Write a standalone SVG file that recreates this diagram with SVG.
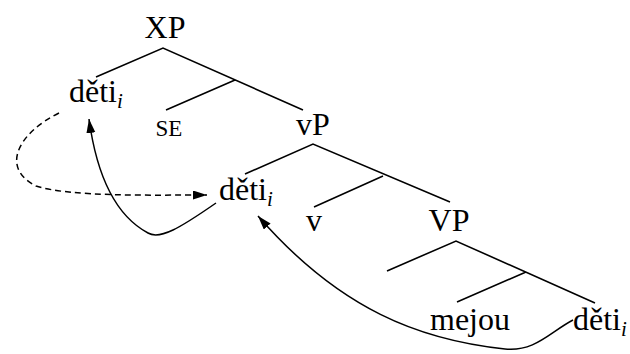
<svg xmlns="http://www.w3.org/2000/svg" width="630" height="354" viewBox="0 0 630 354">
<defs>
<marker id="ah" markerUnits="userSpaceOnUse" markerWidth="16" markerHeight="10" refX="14" refY="4.5" orient="auto">
<path d="M0,0 L14,4.5 L0,9 z" fill="#000"/>
</marker>
</defs>
<rect width="630" height="354" fill="#fff"/>
<g id="tree-lines" stroke="#000" stroke-width="1.6" fill="none">
<path d="M96 77 L163 48 L303 110 M166 110 L235 80"/>
<path d="M245 174 L313 144 L450 202 M314 207 L383 176"/>
<path d="M387 271 L456 241 L595 303 M457 302 L526 272"/>
</g>
<g id="XP"><text x="165" y="38" font-family="Liberation Serif" font-size="32" text-anchor="middle">XP</text></g>
<g id="deti1"><text x="69" y="102" font-family="Liberation Serif" font-size="32">děti<tspan font-style="italic" font-size="21" dy="6">i</tspan></text></g>
<g id="SE"><text x="169" y="136" font-family="Liberation Serif" font-size="23" text-anchor="middle">SE</text></g>
<g id="vP"><text x="313" y="135" font-family="Liberation Serif" font-size="32" text-anchor="middle">vP</text></g>
<g id="deti2"><text x="219" y="200" font-family="Liberation Serif" font-size="32">děti<tspan font-style="italic" font-size="21" dy="6">i</tspan></text></g>
<g id="v"><text x="314" y="231" font-family="Liberation Serif" font-size="32" text-anchor="middle">v</text></g>
<g id="VP"><text x="449" y="231" font-family="Liberation Serif" font-size="32" text-anchor="middle">VP</text></g>
<g id="mejou"><text x="470" y="330" font-family="Liberation Serif" font-size="32" text-anchor="middle">mejou</text></g>
<g id="deti3"><text x="573" y="330" font-family="Liberation Serif" font-size="32">děti<tspan font-style="italic" font-size="21" dy="6">i</tspan></text></g>
<g id="connectors" stroke="#000" stroke-width="1.5" fill="none" marker-end="url(#ah)">
<path stroke-dasharray="6,4" d="M59 113 C18 133 0 168 36 186 C70 197 150 195 207 195"/>
<path d="M216 203 C180 228 160 240 148 233 C120 218 98 185 89 119"/>
<path d="M573 320 C550 332 535 352 505 349 C420 340 340 310 258 216"/>
</g>
</svg>
